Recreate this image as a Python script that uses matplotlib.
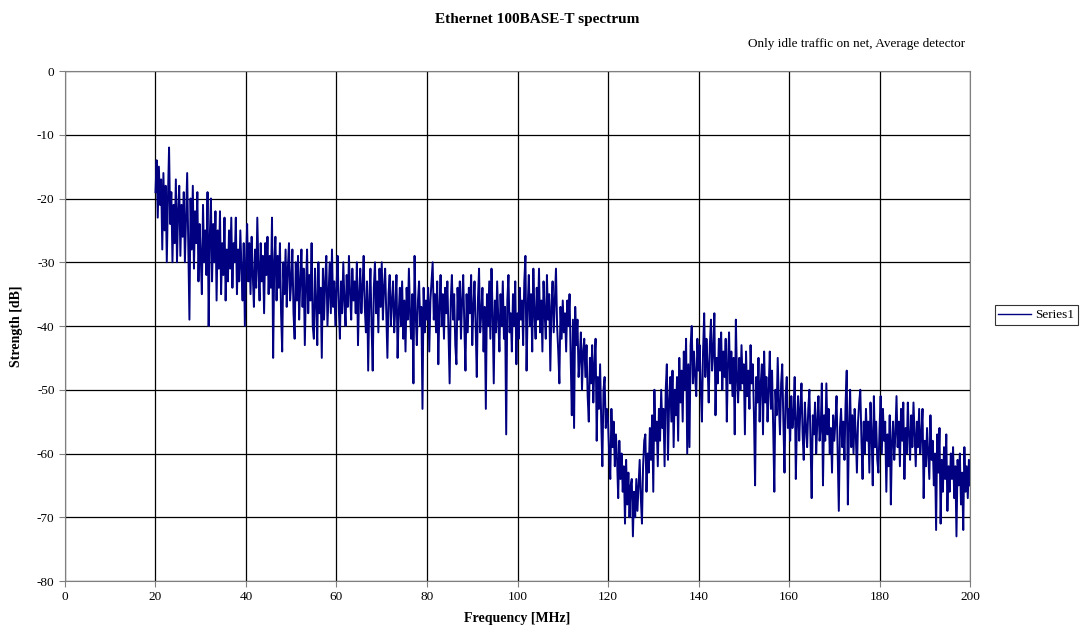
import numpy as np
import matplotlib
matplotlib.use("Agg")
import matplotlib.pyplot as plt

# Strength [dB], 0.25 MHz steps, one list per 20 MHz
seg_20_40 = [-19, -14, -23, -15, -21, -17, -28, -16, -25, -18, -30, -20, -12, -24, -19, -30,
             -21, -27, -17, -30, -22, -18, -29, -21, -26, -19, -30, -23, -16, -27, -39, -20,
             -28, -18, -31, -22, -27, -19, -33, -24, -29, -35, -21, -30, -25, -32, -19, -40,
             -26, -20, -33, -24, -30, -22, -36, -25, -31, -22, -35, -27, -32, -23, -36, -28,
             -33, -25, -31, -23, -34, -27, -30, -23, -35, -28, -33, -25, -31, -36, -27, -40]
seg_40_60 = [-30, -24, -33, -27, -35, -26, -32, -37, -28, -34, -23, -31, -36, -27, -33, -29,
             -38, -27, -32, -26, -35, -29, -34, -23, -45, -30, -26, -36, -29, -34, -27, -38,
             -44, -30, -35, -28, -37, -31, -27, -36, -33, -28, -38, -42, -30, -36, -29, -39,
             -33, -28, -37, -31, -43, -34, -28, -38, -32, -36, -27, -40, -42, -31, -36, -43,
             -30, -38, -34, -45, -31, -39, -33, -29, -40, -35, -30, -38, -28, -37, -33, -40]
seg_60_80 = [-34, -29, -37, -42, -33, -38, -30, -36, -40, -32, -37, -29, -35, -39, -31, -36,
             -33, -38, -30, -43, -35, -31, -38, -34, -29, -37, -41, -33, -47, -36, -31, -40,
             -47, -34, -30, -38, -33, -41, -31, -37, -30, -39, -34, -31, -38, -45, -35, -32,
             -40, -36, -33, -41, -37, -32, -45, -38, -34, -40, -33, -42, -36, -44, -34, -39,
             -31, -38, -42, -35, -49, -29, -38, -43, -36, -33, -40, -37, -53, -34, -41, -36]
seg_80_100 = [-39, -34, -44, -36, -33, -30, -39, -35, -41, -33, -46, -37, -32, -40, -35, -42,
              -34, -38, -33, -41, -49, -36, -32, -39, -35, -43, -46, -34, -39, -33, -42, -36,
              -32, -40, -47, -35, -41, -34, -38, -32, -43, -37, -33, -40, -48, -36, -31, -41,
              -38, -34, -44, -37, -53, -35, -40, -33, -42, -31, -38, -49, -36, -41, -33, -39,
              -44, -35, -40, -33, -42, -37, -57, -36, -32, -41, -38, -44, -35, -40, -33, -46]
seg_100_120 = [-38, -42, -34, -39, -36, -43, -33, -29, -47, -37, -32, -40, -35, -44, -31, -38,
               -42, -34, -39, -31, -41, -36, -44, -33, -38, -42, -32, -39, -35, -47, -37, -33,
               -41, -36, -31, -40, -44, -49, -37, -42, -36, -41, -38, -44, -36, -40, -35, -45,
               -54, -39, -56, -37, -43, -39, -48, -45, -41, -50, -44, -42, -48, -43, -51, -55,
               -45, -49, -43, -52, -46, -42, -58, -48, -53, -46, -55, -62, -50, -48, -56, -53]
seg_120_140 = [-55, -60, -64, -53, -59, -55, -62, -57, -61, -67, -58, -64, -60, -66, -62, -71,
               -61, -68, -63, -70, -65, -64, -73, -66, -70, -64, -69, -65, -61, -67, -71, -62,
               -58, -57, -66, -60, -63, -56, -61, -54, -66, -50, -58, -55, -62, -53, -58, -50,
               -56, -53, -62, -50, -46, -61, -52, -48, -55, -47, -59, -50, -54, -48, -58, -45,
               -52, -47, -55, -44, -50, -42, -60, -46, -59, -43, -40, -49, -44, -48, -51, -42]
seg_140_160 = [-47, -43, -50, -55, -44, -38, -48, -42, -46, -52, -43, -39, -47, -44, -38, -54,
               -45, -49, -42, -47, -41, -50, -44, -48, -42, -55, -46, -41, -49, -44, -51, -45,
               -57, -39, -48, -52, -45, -50, -43, -49, -46, -57, -44, -51, -47, -53, -43, -49,
               -46, -54, -65, -48, -52, -45, -55, -49, -46, -57, -44, -52, -48, -55, -50, -44,
               -53, -47, -56, -66, -50, -54, -45, -52, -57, -49, -46, -55, -63, -51, -48, -56]
seg_160_180 = [-53, -58, -51, -56, -54, -48, -64, -55, -51, -58, -53, -49, -57, -61, -52, -56,
               -59, -53, -50, -58, -67, -54, -57, -52, -60, -55, -51, -58, -56, -49, -65, -54,
               -58, -49, -57, -53, -60, -56, -63, -54, -58, -55, -51, -60, -69, -56, -53, -59,
               -55, -61, -52, -47, -68, -56, -50, -59, -54, -60, -53, -57, -63, -55, -52, -50,
               -58, -64, -55, -60, -53, -58, -55, -63, -52, -57, -65, -51, -59, -55, -61, -63]
seg_180_200 = [-56, -51, -60, -53, -58, -55, -66, -57, -62, -54, -68, -58, -55, -61, -57, -51,
               -59, -55, -62, -53, -58, -52, -64, -56, -60, -52, -57, -61, -54, -59, -52, -57,
               -62, -55, -59, -53, -60, -57, -53, -67, -58, -62, -56, -60, -64, -54, -61, -58,
               -65, -60, -72, -57, -63, -56, -71, -61, -66, -59, -64, -57, -69, -62, -66, -60,
               -64, -59, -67, -62, -73, -61, -65, -60, -68, -63, -72, -59, -66, -62, -67, -61,
               -65]

strength = (seg_20_40 + seg_40_60 + seg_60_80 + seg_80_100 + seg_100_120
            + seg_120_140 + seg_140_160 + seg_160_180 + seg_180_200)
f_start, f_stop = 20, 200
freq = np.linspace(f_start, f_stop, len(strength))

x_ticks = [0, 20, 40, 60, 80, 100, 120, 140, 160, 180, 200]
y_ticks = [0, -10, -20, -30, -40, -50, -60, -70, -80]

plt.rcParams['font.family'] = ['Liberation Serif', 'DejaVu Serif']
plt.rcParams['axes.unicode_minus'] = False

fig = plt.figure(figsize=(10.83, 6.41), dpi=100)
ax = fig.add_axes([0.060, 0.0936, 0.8357, 0.7956])

ax.plot(freq, strength, color='#000080', linewidth=1.4, label='Series1')

ax.set_xlim(0, 200)
ax.set_ylim(-80, 0)
ax.set_xticks(x_ticks)
ax.set_yticks(y_ticks)
ax.grid(True, color='black', linewidth=0.9)
ax.set_axisbelow(True)
for s in ax.spines.values():
    s.set_color('#808080')
ax.tick_params(labelsize=9.5, length=4, color='#808080', direction='out')

ax.set_xlabel('Frequency [MHz]', fontsize=10, fontweight='bold', labelpad=6)
ax.set_ylabel('Strength [dB]', fontsize=10, fontweight='bold', labelpad=10)

fig.text(0.496, 0.970, 'Ethernet 100BASE-T spectrum', ha='center', va='center',
         fontsize=11, fontweight='bold')
fig.text(0.891, 0.932, 'Only idle traffic on net, Average detector', ha='right',
         va='center', fontsize=9.5)

leg = fig.legend(loc='center', bbox_to_anchor=(0.957, 0.508), fontsize=9.5,
                 frameon=True, fancybox=False, edgecolor='black', handlelength=2.5,
                 borderpad=0.3, handletextpad=0.3)
leg.get_frame().set_linewidth(0.8)
leg.get_lines()[0].set_linewidth(1.0)

fig.savefig('out.png', dpi=100)
